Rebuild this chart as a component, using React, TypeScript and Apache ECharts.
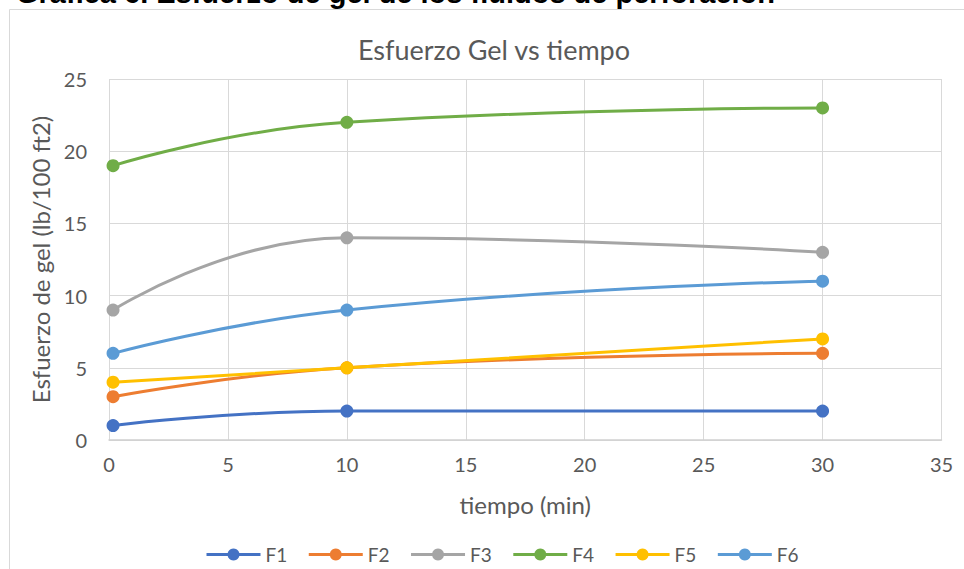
import React, { useEffect, useRef } from "react";
import * as echarts from "echarts";

const times = [0.17, 10, 30];
const seriesNames = ["F1", "F2", "F3", "F4", "F5", "F6"];
const F1 = [1, 2, 2];
const F2 = [3, 5, 6];
const F3 = [9, 14, 13];
const F4 = [19, 22, 23];
const F5 = [4, 5, 7];
const F6 = [6, 9, 11];
const seriesValues = [F1, F2, F3, F4, F5, F6];
const colors = ["#4472C4", "#ED7D31", "#A5A5A5", "#70AD47", "#FFC000", "#5B9BD5"];
const xTicks = { min: 0, max: 35, interval: 5 };
const yTicks = { min: 0, max: 25, interval: 5 };

const FONT = "Lato, 'Noto Sans', sans-serif";

export default function App() {
  const ref = useRef<HTMLDivElement>(null);
  useEffect(() => {
    if (!ref.current) return;
    const chart = echarts.init(ref.current, null, { renderer: "svg" });
    chart.setOption({
      animation: false,
      backgroundColor: "#ffffff",
      textStyle: { fontFamily: FONT },
      graphic: [
        {
          type: "rect",
          shape: { x: 9.5, y: 9.5, width: 1000, height: 700 },
          style: { fill: "none", stroke: "#D9D9D9", lineWidth: 1 },
          silent: true,
        },
        {
          type: "text",
          x: 16,
          y: -7,
          style: {
            text: "Gráfica 6. Esfuerzo de gel de los fluidos de perforación",
            font: "bold 29px 'Liberation Sans', Arial, sans-serif",
            fill: "#000000",
            align: "left",
            verticalAlign: "middle",
          },
        },
        {
          type: "text",
          x: 494,
          y: 49,
          style: {
            text: "Esfuerzo Gel vs tiempo",
            font: "27px " + FONT,
            fill: "#595959",
            align: "center",
            verticalAlign: "middle",
          },
        },
      ],
      grid: { left: 109, right: 22.5, top: 79, bottom: 129, containLabel: false },
      legend: {
        left: 200,
        top: 540,
        itemWidth: 54,
        itemHeight: 15,
        itemGap: 20,
        lineStyle: { width: 3 },
        textStyle: { color: "#595959", fontSize: 19, fontFamily: FONT },
        data: seriesNames,
      },
      xAxis: {
        type: "value",
        min: xTicks.min,
        max: xTicks.max,
        interval: xTicks.interval,
        name: "tiempo (min)",
        nameLocation: "middle",
        nameGap: 52,
        nameTextStyle: { color: "#595959", fontSize: 24, fontFamily: FONT },
        axisLine: { show: true, lineStyle: { color: "#D0D0D0", width: 1.5 } },
        axisTick: { show: false },
        axisLabel: { color: "#595959", fontSize: 20, margin: 14, fontFamily: FONT },
        splitLine: { show: true, lineStyle: { color: "#D9D9D9", width: 1 } },
      },
      yAxis: {
        type: "value",
        min: yTicks.min,
        max: yTicks.max,
        interval: yTicks.interval,
        name: "Esfuerzo de gel (lb/100 ft2)",
        nameLocation: "middle",
        nameGap: 56,
        nameTextStyle: { color: "#595959", fontSize: 24, fontFamily: FONT },
        axisLine: { show: false },
        axisTick: { show: false },
        axisLabel: { color: "#595959", fontSize: 20, margin: 22, fontFamily: FONT },
        splitLine: { show: true, lineStyle: { color: "#D9D9D9", width: 1 } },
      },
      series: seriesNames.map((name, i) => ({
        name,
        type: "line",
        data: times.map((t, j) => [t, seriesValues[i][j]]),
        smooth: 0.5,
        symbol: "circle",
        symbolSize: 13,
        showSymbol: true,
        color: colors[i],
        lineStyle: { width: 3, color: colors[i] },
        itemStyle: { color: colors[i] },
        z: 2,
      })),
    });
    return () => chart.dispose();
  }, []);
  return (
    <div
      ref={ref}
      style={{ position: "fixed", left: 0, top: 0, width: 964, height: 569 }}
    />
  );
}
